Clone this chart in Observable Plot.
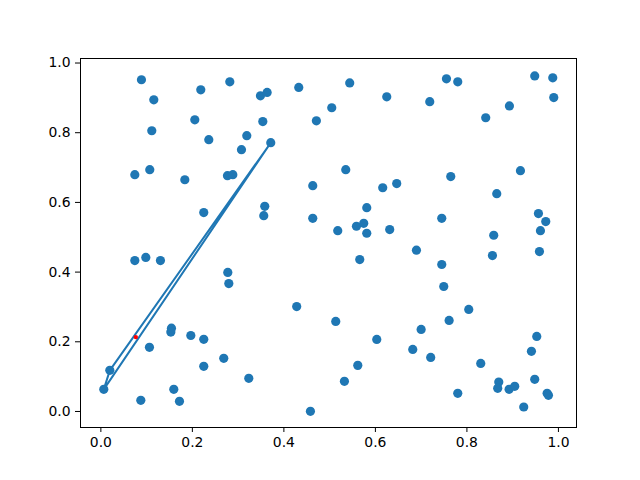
<!DOCTYPE html>
<html>
<head>
<meta charset="utf-8">
<script src="https://cdn.jsdelivr.net/npm/d3@7"></script>
<script src="https://cdn.jsdelivr.net/npm/@observablehq/plot@0.6"></script>
<style>
html,body{margin:0;padding:0;background:#fff;}
</style>
</head>
<body>
<div id="chart"></div>
<script>
const xs = [0.0887,0.1157,0.2184,0.2818,0.3488,0.3634,0.4325,0.471,0.2053,0.3539,0.1113,0.2359,0.3189,0.3073,0.3713,0.0742,0.1069,0.1835,0.2767,0.2884,0.4631,0.2249,0.3582,0.356,0.4631,
0.0742,0.0982,0.1302,0.2774,0.2796,0.428,0.1543,0.1529,0.1966,0.2249,0.1062,0.2686,0.2249,0.3233,0.0196,0.0064,0.1594,0.0873,0.1718,0.458,
0.5439,0.5046,0.6248,0.7188,0.7553,0.780,0.9482,0.9876,0.9898,0.8929,0.8411,0.5352,0.917,0.7647,0.6466,0.616,0.8652,0.5811,0.5177,0.5586,0.5745,0.5811,0.6313,0.745,0.8586,0.9563,0.9723,0.9607,
0.6897,0.5658,0.745,0.8558,0.9585,0.7494,0.804,0.5133,0.7611,0.700,0.603,0.9526,0.6816,0.7209,0.941,0.5615,0.8302,0.5323,0.8696,0.8673,0.8922,0.9045,0.9482,0.780,0.9753,0.9782,0.9242];
const ys = [0.952,0.8945,0.923,0.946,0.906,0.9155,0.930,0.834,0.837,0.832,0.8057,0.780,0.7914,0.7513,0.7713,0.6797,0.694,0.665,0.6767,0.6797,0.648,0.5708,0.5888,0.562,0.5544,
0.433,0.442,0.433,0.399,0.367,0.301,0.239,0.228,0.218,0.207,0.184,0.1524,0.1295,0.095,0.118,0.0635,0.0635,0.032,0.029,0.0005,
0.943,0.8716,0.903,0.889,0.9547,0.946,0.963,0.9576,0.901,0.877,0.843,0.694,0.691,0.674,0.654,0.642,0.625,0.585,0.519,0.5315,0.540,0.5115,0.522,0.5544,0.5057,0.568,0.545,0.519,
0.4628,0.436,0.4218,0.4475,0.459,0.3587,0.2928,0.2584,0.2613,0.2355,0.2069,0.2155,0.178,0.155,0.1725,0.1323,0.138,0.0865,0.0845,0.0665,0.0636,0.0722,0.0923,0.0521,0.0521,0.0464,0.0129];
const lineX = [0.0196,0.3713,0.0064,0.0196];
const lineY = [0.118,0.7713,0.0635,0.118];
const redX = [0.0764];
const redY = [0.2135];
const tickVals = [0,0.2,0.4,0.6,0.8,1.0];

const pts = xs.map((x,i)=>({x, y: ys[i]}));
const linePts = lineX.map((x,i)=>({x, y: lineY[i]}));
const redPts = redX.map((x,i)=>({x, y: redY[i]}));

const chart = Plot.plot({
  width: 640, height: 480,
  marginLeft: 80, marginRight: 64, marginTop: 58, marginBottom: 53,
  style: {fontFamily: "DejaVu Sans", fontSize: "13.9px", background: "white", color: "black"},
  x: {domain: [-0.0445, 1.0395]},
  y: {domain: [-0.046, 1.013]},
  marks: [
    Plot.axisX({ticks: tickVals, tickFormat: d3.format(".1f"), tickSize: 5, tickPadding: 5, label: null, stroke: "black", strokeOpacity: 1}),
    Plot.axisY({ticks: tickVals, tickFormat: d3.format(".1f"), tickSize: 5, tickPadding: 5, label: null, stroke: "black", strokeOpacity: 1}),
    Plot.dot(pts, {x: "x", y: "y", r: 4.6, fill: "#1f77b4", stroke: "none"}),
    Plot.line(linePts, {x: "x", y: "y", stroke: "#1f77b4", strokeWidth: 2}),
    Plot.dot(redPts, {x: "x", y: "y", r: 2.2, fill: "red", stroke: "none"}),
    Plot.frame({stroke: "black", strokeWidth: 1})
  ]
});
document.getElementById("chart").appendChild(chart);
</script>
</body>
</html>
